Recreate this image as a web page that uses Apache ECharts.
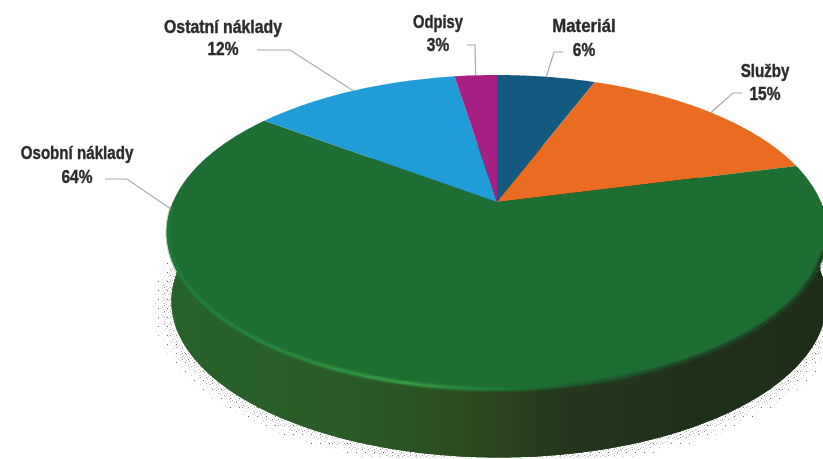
<!DOCTYPE html>
<html>
<head>
<meta charset="utf-8">
<style>html,body{margin:0;padding:0;background:#fff}#c{width:823px;height:459px}</style>
<script src="https://cdn.jsdelivr.net/npm/echarts@6/dist/echarts.min.js"></script>
</head>
<body>
<div id="c"></div>
<script>
const categories = ['Materiál', 'Služby', 'Osobní náklady', 'Ostatní náklady', 'Odpisy'];
const values = [5.8, 15.2, 64.2, 12.3, 2.5];
const tickLabels = ['6%', '15%', '64%', '12%', '3%'];

// Perspective disc
const CX = 497, CY = 202, A = 324, B = 151.6, K = 0.1937;
const total = values.reduce((s, v) => s + v, 0);
function proj(share, grow, dy, dx) {
  const g = grow || 1, t = share * 2 * Math.PI;
  const u = Math.sin(t), v = -Math.cos(t), d = 1 - K * v;
  return [CX + (dx || 0) + g * A * u / d, CY + g * B * v / d + (dy || 0)];
}
function arc(from, to, grow, dy, dx) {
  const pts = [], n = Math.max(2, Math.ceil(Math.abs(to - from) * 720));
  for (let i = 0; i <= n; i++) pts.push(proj(from + (to - from) * i / n, grow, dy, dx));
  return pts;
}
function startOf(i) { return values.slice(0, i).reduce((s, v) => s + v, 0) / total; }

// Slice colours and label layout (styling only)
const sliceColors = ['#145a80', '#e96c20', '#1e6d33', '#209dd8', '#a52080'];
const labelLayout = [
  {x: 584, y1: 27, y2: 51, sx: 0.93, pos: 0.5,  elbow: [554, 52],  start: [563, 52]},
  {x: 765, y1: 72, y2: 95, sx: 0.84, pos: 0.5,  elbow: [733, 93],  start: [742, 93]},
  {x: 77,  y1: 154, y2: 178, sx: 0.84, pos: 0.83, elbow: [127, 179], start: [105, 179]},
  {x: 223, y1: 28, y2: 50, sx: 0.88, pos: 0.5,  elbow: [290, 50],  start: [257, 50]},
  {x: 438, y1: 23, y2: 46, sx: 0.82, pos: 0.5,  elbow: [475, 45],  start: [467, 45]}
];

function dots(spec, size) {
  const c = document.createElement('canvas');
  c.width = c.height = size;
  const g = c.getContext('2d');
  spec.forEach(d => { g.fillStyle = d[2]; g.fillRect(d[0], d[1], 1, 1); });
  return c;
}
const dotsNear = dots([[0,0,'#c4c4c4'],[3,1,'#d6d6d6'],[1,3,'#d6d6d6'],[4,4,'#c4c4c4'],[2,5,'#999']], 6);
const dotsFar = dots([[0,0,'#d8d8d8'],[5,2,'#666'],[2,6,'#cccccc']], 9);

const WALL = {type:'linear', x:167, y:0, x2:827, y2:0, global:true, colorStops:[
  {offset:0, color:'#27632a'},{offset:0.3, color:'#295a26'},{offset:0.43, color:'#2c4d21'},
  {offset:0.6, color:'#25381c'},{offset:0.8, color:'#1f3019'},{offset:1, color:'#1e2d18'}]};
const RIM = {type:'linear', x:167, y:0, x2:827, y2:0, global:true, colorStops:[
  {offset:0, color:'#1e7a36'},{offset:0.2, color:'#2a8c3c'},{offset:0.36, color:'#3a9f48'},
  {offset:0.5, color:'#1f7a36'},{offset:0.62, color:'#1d5a2c'},{offset:0.78, color:'#1f4223'},{offset:1, color:'#1f3a20'}]};
const RIM_FROM = 0.3, RIM_TO = 0.745;
const base = [0.992, 69, 2];

function renderBody() {
  const wall = arc(0.25, 0.75, base[0], base[1], base[2]).concat(arc(0.75, 0.25, 1, 0));
  return {type:'group', silent:true, children:[
    {type:'polygon', shape:{points: arc(0, 1, 1.048, 72, 2)}, style:{fill:{image:dotsFar, repeat:'repeat'}}},
    {type:'polygon', shape:{points: arc(0, 1, 1.022, 71, 2)}, style:{fill:{image:dotsNear, repeat:'repeat'}}},
    {type:'polygon', shape:{points: arc(0, 1, base[0], base[1], base[2])}, style:{fill:WALL}},
    {type:'polygon', shape:{points: wall}, style:{fill:WALL}}
  ]};
}
function renderSlice(params, api) {
  const i = params.dataIndex, from = startOf(i), to = from + api.value(0) / total;
  const pts = [[CX, CY]].concat(arc(from, to));
  return {type:'polygon', silent:true, shape:{points: pts}, style:{fill: sliceColors[i]}};
}
function renderRim() {
  const pts = arc(RIM_FROM, RIM_TO, 0.995);
  return {type:'group', silent:true, children:[
    {type:'polyline', shape:{points: pts}, style:{fill:'none', stroke:RIM, lineWidth:6, opacity:0.3}},
    {type:'polyline', shape:{points: pts}, style:{fill:'none', stroke:RIM, lineWidth:3.5, opacity:0.5}},
    {type:'polyline', shape:{points: pts}, style:{fill:'none', stroke:RIM, lineWidth:1.5, opacity:0.9}}
  ]};
}
function renderLabel(params, api) {
  const i = params.dataIndex, L = labelLayout[i];
  const from = startOf(i), share = api.value(0) / total;
  const end = proj(from + share * L.pos);
  const font = 'bold 18px "Liberation Sans", sans-serif';
  const txt = (text, y, sx) => ({type:'text', x:L.x, y, scaleX:sx,
    style:{text, x:0, y:0, font, fill:'#2a2a2a', stroke:'#2a2a2a', lineWidth:0.4, align:'center', verticalAlign:'middle'}});
  return {type:'group', silent:true, children:[
    {type:'polyline', shape:{points:[L.start, L.elbow, end]}, style:{fill:'none', stroke:'#aaaaaa', lineWidth:1.2}},
    txt(categories[i], L.y1, L.sx),
    txt(tickLabels[i], L.y2, 0.86)
  ]};
}

const chart = echarts.init(document.getElementById('c'), null, {renderer:'canvas'});
const rows = values.map((v, i) => ({name: categories[i], value: [v]}));
chart.setOption({
  animation:false,
  backgroundColor:'#fff',
  series:[
    {type:'custom', coordinateSystem:'none', renderItem:renderBody, data:[[total]], silent:true, z:1},
    {type:'custom', coordinateSystem:'none', renderItem:renderSlice, data:rows, silent:true, z:2},
    {type:'custom', coordinateSystem:'none', renderItem:renderRim, data:[[total]], silent:true, z:3},
    {type:'custom', coordinateSystem:'none', renderItem:renderLabel, data:rows, silent:true, z:4}
  ]
});
</script>
</body>
</html>
